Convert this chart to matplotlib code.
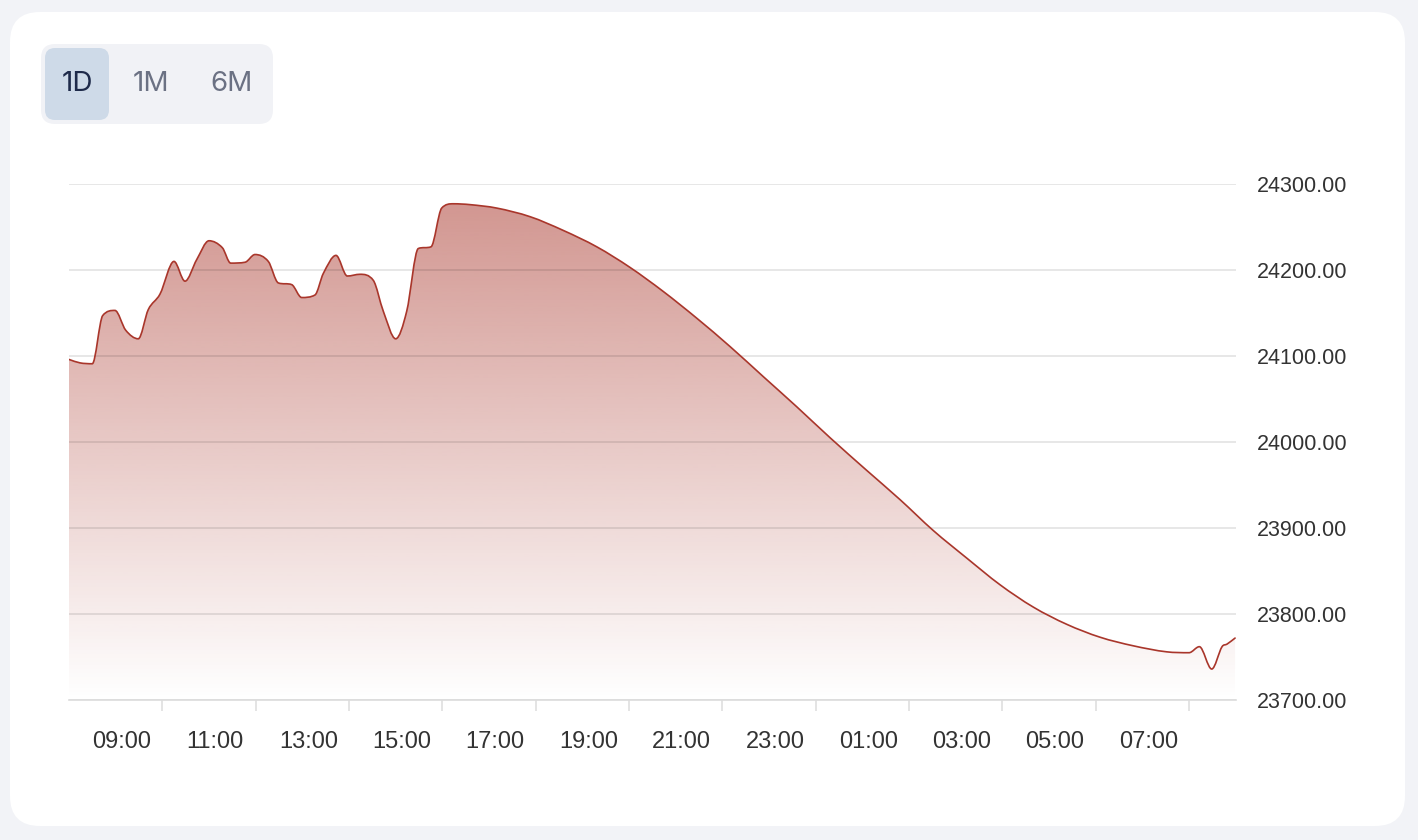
import numpy as np
import matplotlib
matplotlib.use("Agg")
import matplotlib.pyplot as plt
from matplotlib.path import Path
from matplotlib.patches import PathPatch, FancyBboxPatch
from matplotlib.transforms import IdentityTransform
import matplotlib.colors as mcolors

# ---------------- data (hours since midnight of day 1; >24 = next day) ----------------
times = [7.871, 8.107, 8.370, 8.593, 8.856, 9.086, 9.356, 9.570, 9.821, 10.121,
         10.357, 10.607, 10.871, 11.156, 11.336, 11.643, 11.857, 12.142, 12.356, 12.643,
         12.858, 13.143, 13.321, 13.593, 13.835, 14.107, 14.392, 14.607, 14.872, 15.108,
         15.357, 15.629, 15.858, 16.107, 16.465, 17.037, 17.751, 18.464, 19.180, 19.894,
         20.607, 21.323, 22.037, 22.750, 23.466, 24.180, 24.966, 25.680, 26.394, 27.110,
         27.823, 28.537, 29.253, 29.967, 30.680, 31.396, 31.874, 32.095, 32.360, 32.581,
         32.688, 32.860]
values = [24096, 24092, 24091, 24147, 24153, 24130, 24120, 24154, 24172, 24210,
          24187, 24212, 24234, 24226, 24208, 24209, 24218, 24210, 24185, 24183,
          24168, 24171, 24196, 24217, 24193, 24195, 24188, 24152, 24120, 24152,
          24225, 24227, 24272, 24277, 24276, 24272, 24262, 24246, 24227, 24203,
          24175, 24144, 24111, 24076, 24041, 24005, 23967, 23933, 23897, 23865,
          23834, 23808, 23788, 23773, 23763, 23756, 23755, 23762, 23736, 23762,
          23765, 23772]

y_ticks = [23700, 23800, 23900, 24000, 24100, 24200, 24300]
x_label_hours = [9, 11, 13, 15, 17, 19, 21, 23, 25, 27, 29, 31]
x_labels = ["09:00", "11:00", "13:00", "15:00", "17:00", "19:00", "21:00",
            "23:00", "01:00", "03:00", "05:00", "07:00"]
x_tick_hours = [9.87, 11.87, 13.87, 15.87, 17.87, 19.87, 21.87, 23.87,
                25.87, 27.87, 29.87, 31.87]
ranges = ["1D", "1M", "6M"]
active_range = "1D"

x_start, x_end = 7.871, 32.88

# ---------------- style ----------------
W, H = 1418, 840
BG = "#F2F3F7"
LINE = "#A9362B"
plt.rcParams["font.family"] = ["Liberation Sans", "DejaVu Sans"]

fig = plt.figure(figsize=(W / 100, H / 100), dpi=100, facecolor=BG)

# card
card = FancyBboxPatch((10, H - 826), 1395, 814,
                      boxstyle="round,pad=0,rounding_size=30",
                      transform=IdentityTransform(), fc="white", ec="none", zorder=-10)
fig.add_artist(card)

# range selector
cont = FancyBboxPatch((41, H - 124), 232, 80, boxstyle="round,pad=0,rounding_size=14",
                      transform=IdentityTransform(), fc="#F1F2F6", ec="none", zorder=-9)
fig.add_artist(cont)
btn_centers = [77, 151, 231]
for lab, cx in zip(ranges, btn_centers):
    if lab == active_range:
        b = FancyBboxPatch((45, H - 120), 64, 72, boxstyle="round,pad=0,rounding_size=10",
                           transform=IdentityTransform(), fc="#CEDAE8", ec="none", zorder=-8)
        fig.add_artist(b)
        col = "#1E2A4A"
    else:
        col = "#6B7183"
    fig.text(cx / W, 1 - 84 / H, lab, ha="center", va="center", fontsize=20,
             color=col, family=["Inter", "DejaVu Sans"])

# axes
ax = fig.add_axes([69 / W, (H - 700) / H, (1236 - 69) / W, (700 - 184) / H])
ax.set_facecolor("none")


def smooth_path(x, y):
    x = np.asarray(x, float)
    y = np.asarray(y, float)
    n = len(x)
    h = np.diff(x)
    d = np.diff(y) / h
    m = np.zeros(n)
    m[0], m[-1] = d[0], d[-1]
    for i in range(1, n - 1):
        if d[i - 1] * d[i] <= 0:
            m[i] = 0.0
        else:
            c = (y[i + 1] - y[i - 1]) / (x[i + 1] - x[i - 1])
            lim = 3 * min(abs(d[i - 1]), abs(d[i]))
            m[i] = np.sign(c) * min(abs(c), lim)
    verts = [(x[0], y[0])]
    codes = [Path.MOVETO]
    for i in range(n - 1):
        dx = h[i] / 3
        verts += [(x[i] + dx, y[i] + m[i] * dx),
                  (x[i + 1] - dx, y[i + 1] - m[i + 1] * dx),
                  (x[i + 1], y[i + 1])]
        codes += [Path.CURVE4] * 3
    return verts, codes


verts, codes = smooth_path(times, values)
line_path = Path(verts, codes)
ymin = y_ticks[0]
fill_verts = verts + [(times[-1], ymin), (times[0], ymin), (times[0], ymin)]
fill_codes = codes + [Path.LINETO, Path.LINETO, Path.CLOSEPOLY]
fill_patch = PathPatch(Path(fill_verts, fill_codes), fc="none", ec="none")
ax.add_patch(fill_patch)

rgb = mcolors.to_rgb(LINE)
grad = np.zeros((256, 1, 4))
grad[:, 0, 0], grad[:, 0, 1], grad[:, 0, 2] = rgb
grad[:, 0, 3] = np.linspace(0.0, 0.52, 256)
im = ax.imshow(grad, extent=[times[0], times[-1], ymin, max(values)], origin="lower",
               aspect="auto", interpolation="bilinear", zorder=1)
im.set_clip_path(fill_patch)

ax.add_patch(PathPatch(line_path, fc="none", ec=LINE, lw=1.2, zorder=3,
                       capstyle="round", joinstyle="round"))

ax.set_xlim(x_start, x_end)
ax.set_ylim(y_ticks[0], y_ticks[-1])

# grid & spines
for s in ["top", "left", "right"]:
    ax.spines[s].set_visible(False)
ax.spines["bottom"].set_color("#DCDCDC")
ax.spines["bottom"].set_linewidth(1.2)
ax.spines["bottom"].set_zorder(4)
ax.set_yticks(y_ticks)
ax.set_yticklabels([f"{v:.2f}" for v in y_ticks])
ax.yaxis.tick_right()
ax.set_axisbelow(False)
ax.tick_params(axis="y", length=0, pad=15, labelsize=15.5, labelcolor="#333333",
               grid_color="black", grid_alpha=0.12, grid_linewidth=1.1)
ax.yaxis.grid(True)

ax.set_xticks(x_tick_hours)
ax.set_xticklabels([""] * len(x_tick_hours))
ax.tick_params(axis="x", which="major", length=8, width=1.1, color="#DCDCDC")
ax.set_xticks(x_label_hours, minor=True)
ax.set_xticklabels(x_labels, minor=True)
ax.tick_params(axis="x", which="minor", length=0, pad=22, labelsize=17,
               labelcolor="#333333")

fig.savefig("out.png", dpi=100, facecolor=BG)
